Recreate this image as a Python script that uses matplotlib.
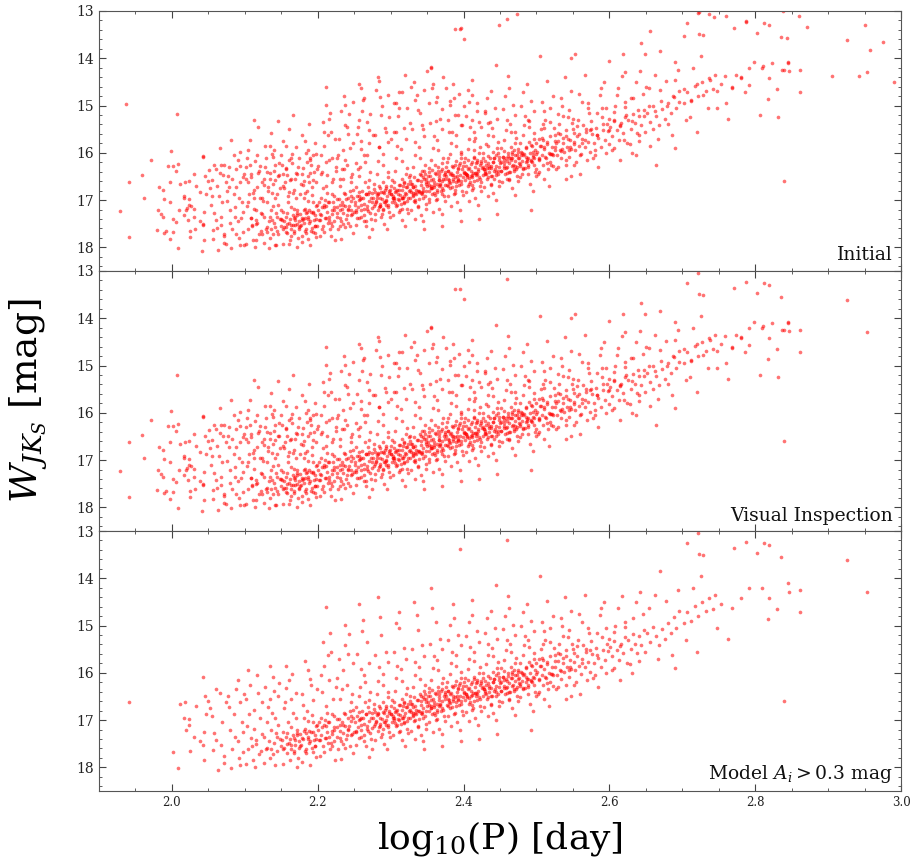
import numpy as np
import matplotlib
matplotlib.use("Agg")
import matplotlib.pyplot as plt
from matplotlib.ticker import MultipleLocator

plt.rcParams['font.family'] = ['DejaVu Serif']
plt.rcParams['mathtext.fontset'] = 'dejavuserif'

# stars kept in all three selections (log10 P [day], W_JKs [mag])
stars_model = [
    (1.941, 16.62),
    (2.001, 17.68), (2.008, 18.01), (2.011, 16.65), (2.018, 16.61), (2.016, 16.95), (2.023, 16.97), (2.020, 17.21), (2.024, 17.10), (2.025, 17.65),
    (2.033, 16.70), (2.043, 16.08), (2.046, 16.50), (2.049, 16.60), (2.047, 16.88), (2.044, 17.25), (2.043, 17.52), (2.044, 17.85), (2.038, 17.45), (2.030, 17.35),
    (2.052, 16.75), (2.055, 16.92), (2.058, 17.28), (2.061, 17.42), (2.057, 17.63), (2.066, 16.43), (2.069, 17.05), (2.071, 17.75), (2.063, 18.05), (2.074, 16.62),
    (2.068, 17.52), (2.072, 17.90), (2.060, 16.35),
    (2.077, 16.50), (2.080, 17.20), (2.083, 17.62), (2.085, 16.88), (2.088, 16.35), (2.090, 17.45), (2.092, 17.80), (2.094, 16.62), (2.096, 17.05), (2.098, 17.68),
    (2.081, 18.02), (2.086, 17.35), (2.091, 16.15), (2.097, 17.25), (2.079, 16.72), (2.093, 17.95), (2.099, 16.45),
    (2.101, 16.55), (2.103, 17.12), (2.105, 17.62), (2.107, 16.25), (2.109, 17.38), (2.111, 17.85), (2.113, 16.78), (2.115, 17.50), (2.117, 16.05), (2.119, 17.72),
    (2.121, 16.95), (2.123, 17.30), (2.102, 17.92), (2.106, 16.88), (2.110, 17.55), (2.114, 18.00), (2.118, 16.42), (2.122, 17.65), (2.104, 15.95), (2.112, 17.18),
    (2.116, 17.42), (2.124, 16.62),
    (2.126, 17.35), (2.128, 16.30), (2.130, 17.58), (2.132, 16.72), (2.134, 17.80), (2.136, 17.20), (2.138, 16.08), (2.140, 17.48), (2.142, 16.95), (2.144, 17.65),
    (2.146, 16.50), (2.148, 17.40), (2.127, 17.90), (2.131, 17.05), (2.135, 16.55), (2.139, 17.72), (2.143, 17.28), (2.147, 16.22), (2.129, 17.62), (2.133, 17.45),
    (2.137, 16.85), (2.141, 17.95), (2.145, 17.10), (2.149, 17.55), (2.134, 15.85), (2.140, 16.38), (2.144, 17.35), (2.136, 17.62),
    (2.151, 17.42), (2.152, 17.25), (2.154, 17.58), (2.155, 16.62), (2.157, 17.35), (2.158, 17.70), (2.160, 16.15), (2.161, 17.48), (2.163, 17.15), (2.164, 17.62),
    (2.166, 16.85), (2.167, 17.38), (2.169, 17.52), (2.170, 16.42), (2.172, 17.28), (2.173, 17.80), (2.174, 17.45), (2.153, 17.92), (2.156, 16.32), (2.159, 17.05),
    (2.162, 17.40), (2.165, 16.02), (2.168, 17.65), (2.171, 17.20), (2.154, 16.75), (2.158, 17.50), (2.162, 17.85), (2.166, 17.32), (2.170, 16.95), (2.174, 17.58),
    (2.157, 15.85), (2.163, 16.55), (2.169, 17.42), (2.172, 18.00),
    (2.176, 17.30), (2.177, 17.52), (2.179, 16.45), (2.180, 17.40), (2.182, 17.18), (2.183, 17.65), (2.185, 16.80), (2.186, 17.35), (2.188, 17.48), (2.189, 16.12),
    (2.191, 17.25), (2.192, 17.60), (2.194, 16.58), (2.195, 17.42), (2.197, 17.12), (2.198, 17.78), (2.178, 17.88), (2.181, 16.95), (2.184, 17.28), (2.187, 15.95),
    (2.190, 17.45), (2.193, 17.05), (2.196, 17.55), (2.199, 16.35), (2.180, 16.68), (2.184, 17.70), (2.188, 17.22), (2.192, 16.90), (2.196, 17.32), (2.178, 17.38),
    (2.186, 17.02), (2.194, 17.68), (2.183, 15.75), (2.191, 16.25), (2.198, 17.40), (2.189, 17.95),
    (2.201, 17.20), (2.202, 17.42), (2.204, 16.95), (2.205, 17.32), (2.207, 17.55), (2.208, 17.10), (2.210, 17.38), (2.211, 16.70), (2.213, 17.25), (2.214, 17.48),
    (2.216, 17.05), (2.217, 17.62), (2.219, 16.88), (2.220, 17.30), (2.222, 17.15), (2.223, 17.45), (2.203, 17.75), (2.206, 16.40), (2.209, 15.85), (2.212, 14.60),
    (2.215, 16.15), (2.218, 15.55), (2.221, 16.55), (2.224, 17.85), (2.204, 16.05), (2.210, 17.00), (2.216, 17.35), (2.222, 16.92), (2.207, 15.35), (2.213, 16.85),
    (2.219, 17.22), (2.202, 17.05), (2.208, 17.68), (2.214, 15.62), (2.220, 17.55), (2.225, 16.30), (2.211, 17.12), (2.217, 15.15),
    (2.226, 17.15), (2.227, 17.35), (2.229, 16.98), (2.230, 17.22), (2.232, 17.45), (2.233, 17.05), (2.235, 17.28), (2.236, 16.85), (2.238, 17.12), (2.239, 17.40),
    (2.241, 16.95), (2.242, 17.20), (2.244, 17.55), (2.245, 17.02), (2.247, 17.30), (2.248, 16.78), (2.228, 17.62), (2.231, 16.55), (2.234, 15.95), (2.237, 15.42),
    (2.240, 16.25), (2.243, 15.18), (2.246, 16.62), (2.249, 17.70), (2.229, 15.70), (2.233, 16.35), (2.238, 17.58), (2.243, 17.12), (2.247, 16.45), (2.227, 16.10),
    (2.235, 17.50), (2.241, 15.60), (2.245, 16.92), (2.250, 17.25), (2.232, 17.82), (2.240, 17.32), (2.237, 14.98), (2.248, 15.80), (2.230, 17.10), (2.244, 16.80),
    (2.251, 17.05), (2.252, 17.25), (2.254, 16.92), (2.255, 17.15), (2.257, 17.38), (2.258, 16.98), (2.260, 17.20), (2.261, 16.80), (2.263, 17.08), (2.264, 17.32),
    (2.266, 16.88), (2.267, 17.12), (2.269, 16.72), (2.270, 17.02), (2.272, 17.28), (2.273, 16.95), (2.253, 17.52), (2.256, 16.50), (2.259, 15.92), (2.262, 14.88),
    (2.265, 16.20), (2.268, 15.35), (2.271, 16.58), (2.274, 17.62), (2.254, 15.60), (2.258, 16.30), (2.263, 17.45), (2.268, 17.18), (2.272, 16.40), (2.256, 17.00),
    (2.261, 15.12), (2.266, 17.55), (2.270, 15.80), (2.275, 16.85), (2.252, 16.72), (2.259, 17.10), (2.265, 16.62), (2.273, 17.40), (2.257, 14.55), (2.264, 16.05),
    (2.271, 17.78), (2.260, 16.95),
    (2.276, 16.95), (2.277, 17.12), (2.279, 16.82), (2.280, 17.02), (2.282, 17.22), (2.283, 16.88), (2.285, 17.08), (2.286, 16.75), (2.288, 16.98), (2.289, 17.18),
    (2.291, 16.85), (2.292, 17.05), (2.294, 16.70), (2.295, 16.92), (2.297, 17.15), (2.298, 16.80), (2.278, 17.42), (2.281, 16.45), (2.284, 15.88), (2.287, 15.20),
    (2.290, 16.25), (2.293, 15.55), (2.296, 16.52), (2.299, 17.35), (2.279, 15.62), (2.283, 16.18), (2.288, 17.30), (2.293, 17.00), (2.297, 16.40), (2.281, 16.90),
    (2.286, 14.82), (2.291, 17.50), (2.296, 15.78), (2.300, 16.88), (2.277, 16.65), (2.284, 17.15), (2.290, 16.62), (2.298, 17.25), (2.282, 14.40), (2.289, 16.02),
    (2.295, 17.62), (2.285, 16.95), (2.292, 16.78), (2.280, 17.05), (2.287, 17.35), (2.294, 17.10),
    (2.301, 16.88), (2.302, 17.05), (2.304, 16.75), (2.305, 16.95), (2.307, 17.12), (2.308, 16.80), (2.310, 16.98), (2.311, 16.68), (2.313, 16.90), (2.314, 17.08),
    (2.316, 16.78), (2.317, 16.95), (2.319, 16.62), (2.320, 16.85), (2.322, 17.02), (2.323, 16.72), (2.303, 17.32), (2.306, 16.38), (2.309, 15.85), (2.312, 15.05),
    (2.315, 16.18), (2.318, 15.48), (2.321, 16.45), (2.324, 17.28), (2.304, 15.55), (2.308, 16.10), (2.313, 17.22), (2.318, 16.92), (2.322, 16.32), (2.306, 16.82),
    (2.311, 14.72), (2.316, 17.42), (2.321, 15.70), (2.325, 16.80), (2.302, 16.58), (2.309, 17.10), (2.315, 16.55), (2.323, 17.18), (2.307, 14.95), (2.314, 15.92),
    (2.320, 17.55), (2.310, 16.88), (2.317, 16.70), (2.305, 17.00), (2.312, 17.25), (2.319, 17.05), (2.324, 16.65), (2.303, 16.92),
    (2.326, 16.78), (2.327, 16.95), (2.329, 16.65), (2.330, 16.85), (2.332, 17.02), (2.333, 16.70), (2.335, 16.88), (2.336, 16.58), (2.338, 16.80), (2.339, 16.98),
    (2.341, 16.68), (2.342, 16.85), (2.344, 16.52), (2.345, 16.75), (2.347, 16.92), (2.348, 16.62), (2.328, 17.22), (2.331, 16.30), (2.334, 15.78), (2.337, 15.10),
    (2.340, 16.12), (2.343, 15.42), (2.346, 16.38), (2.349, 17.18), (2.329, 15.50), (2.333, 16.05), (2.338, 17.12), (2.343, 16.82), (2.347, 16.25), (2.331, 16.72),
    (2.336, 14.78), (2.341, 17.32), (2.346, 15.65), (2.350, 16.70), (2.327, 16.48), (2.334, 17.00), (2.340, 16.45), (2.348, 17.08), (2.332, 14.50), (2.339, 15.88),
    (2.345, 17.45), (2.335, 16.78), (2.342, 16.60), (2.330, 16.90), (2.337, 17.15), (2.344, 16.95), (2.349, 16.55), (2.328, 16.82), (2.346, 17.62), (2.333, 17.40),
    (2.351, 16.62), (2.352, 16.80), (2.354, 16.50), (2.355, 16.70), (2.357, 16.88), (2.358, 16.55), (2.360, 16.72), (2.361, 16.42), (2.363, 16.65), (2.364, 16.82),
    (2.366, 16.52), (2.367, 16.70), (2.369, 16.38), (2.370, 16.60), (2.372, 16.78), (2.373, 16.48), (2.353, 17.05), (2.356, 16.15), (2.359, 15.65), (2.362, 14.92),
    (2.365, 15.95), (2.368, 15.28), (2.371, 16.22), (2.374, 17.02), (2.354, 15.38), (2.358, 15.90), (2.363, 16.98), (2.368, 16.68), (2.372, 16.10), (2.356, 16.58),
    (2.356, 14.20), (2.366, 17.18), (2.371, 15.50), (2.375, 16.55), (2.352, 16.32), (2.359, 16.85), (2.365, 16.30), (2.373, 16.92), (2.357, 14.62), (2.364, 15.72),
    (2.370, 17.30), (2.360, 16.62), (2.367, 16.45), (2.355, 16.75), (2.362, 17.00), (2.369, 16.80), (2.374, 16.40), (2.353, 16.68), (2.371, 17.55), (2.358, 17.25),
    (2.366, 16.58), (2.361, 16.90),
    (2.376, 16.50), (2.377, 16.68), (2.379, 16.38), (2.380, 16.58), (2.382, 16.75), (2.383, 16.42), (2.385, 16.60), (2.386, 16.30), (2.388, 16.52), (2.389, 16.70),
    (2.391, 16.40), (2.392, 16.58), (2.394, 16.25), (2.395, 16.48), (2.397, 16.65), (2.398, 16.35), (2.378, 16.92), (2.381, 16.02), (2.384, 15.55), (2.387, 14.85),
    (2.390, 15.85), (2.393, 15.20), (2.396, 16.10), (2.399, 16.90), (2.379, 15.30), (2.383, 15.80), (2.388, 16.85), (2.393, 16.55), (2.397, 15.98), (2.381, 16.45),
    (2.386, 14.55), (2.391, 17.05), (2.396, 15.42), (2.400, 16.42), (2.377, 16.20), (2.384, 16.72), (2.390, 16.18), (2.398, 16.80), (2.382, 14.98), (2.389, 15.62),
    (2.395, 17.20), (2.385, 16.48), (2.392, 16.32), (2.380, 16.62), (2.387, 16.88), (2.394, 16.68), (2.399, 16.28), (2.378, 16.55), (2.396, 17.45), (2.383, 17.12),
    (2.395, 13.38), (2.391, 16.50),
    (2.401, 16.40), (2.402, 16.58), (2.404, 16.28), (2.405, 16.48), (2.407, 16.65), (2.408, 16.32), (2.410, 16.50), (2.411, 16.20), (2.413, 16.42), (2.414, 16.60),
    (2.416, 16.30), (2.417, 16.48), (2.419, 16.15), (2.420, 16.38), (2.422, 16.55), (2.423, 16.25), (2.403, 16.82), (2.406, 15.92), (2.409, 15.45), (2.412, 14.78),
    (2.415, 15.75), (2.418, 15.12), (2.421, 16.00), (2.424, 16.80), (2.404, 15.22), (2.408, 15.70), (2.413, 16.75), (2.418, 16.45), (2.422, 15.88), (2.406, 16.35),
    (2.411, 14.45), (2.416, 16.95), (2.421, 15.35), (2.425, 16.32), (2.402, 16.10), (2.409, 16.62), (2.415, 16.08), (2.423, 16.70), (2.407, 14.92), (2.414, 15.55),
    (2.420, 17.10), (2.410, 16.38), (2.417, 16.22), (2.405, 16.52), (2.412, 16.78), (2.419, 16.58), (2.424, 16.18), (2.403, 16.45), (2.421, 17.40), (2.408, 17.02),
    (2.416, 16.42), (2.411, 16.68),
    (2.426, 16.30), (2.427, 16.48), (2.429, 16.18), (2.430, 16.38), (2.432, 16.55), (2.433, 16.22), (2.435, 16.40), (2.436, 16.10), (2.438, 16.32), (2.439, 16.50),
    (2.441, 16.20), (2.442, 16.38), (2.444, 16.05), (2.445, 16.28), (2.447, 16.45), (2.448, 16.15), (2.428, 16.72), (2.431, 15.82), (2.434, 15.38), (2.437, 14.70),
    (2.440, 15.65), (2.443, 15.05), (2.446, 15.90), (2.449, 16.70), (2.429, 15.15), (2.433, 15.62), (2.438, 16.65), (2.443, 16.35), (2.447, 15.78), (2.431, 16.25),
    (2.444, 14.14), (2.441, 16.85), (2.446, 15.28), (2.450, 16.22), (2.427, 16.00), (2.434, 16.52), (2.440, 15.98), (2.448, 16.60), (2.432, 14.85), (2.439, 15.48),
    (2.445, 17.00), (2.435, 16.28), (2.442, 16.12), (2.430, 16.42), (2.437, 16.68), (2.444, 16.48), (2.449, 16.08), (2.428, 16.35), (2.446, 17.30), (2.433, 16.92),
    (2.451, 16.20), (2.452, 16.38), (2.454, 16.08), (2.455, 16.28), (2.457, 16.45), (2.458, 16.12), (2.460, 16.30), (2.461, 16.00), (2.463, 16.22), (2.464, 16.40),
    (2.466, 16.10), (2.467, 16.28), (2.469, 15.95), (2.470, 16.18), (2.472, 16.35), (2.473, 16.05), (2.453, 16.62), (2.456, 15.72), (2.459, 15.30), (2.462, 14.62),
    (2.465, 15.55), (2.468, 14.98), (2.471, 15.80), (2.474, 16.60), (2.454, 15.08), (2.458, 15.52), (2.463, 16.55), (2.468, 16.25), (2.472, 15.68), (2.456, 16.15),
    (2.461, 14.38), (2.466, 16.75), (2.471, 15.20), (2.475, 16.12), (2.452, 15.90), (2.459, 16.42), (2.465, 15.88), (2.473, 16.50), (2.457, 14.80), (2.464, 15.40),
    (2.470, 16.90), (2.460, 16.18), (2.467, 16.02), (2.455, 16.32), (2.462, 16.58), (2.469, 16.38), (2.474, 15.98), (2.476, 16.22), (2.460, 13.18),
    (2.476, 16.10), (2.477, 16.28), (2.479, 15.98), (2.480, 16.18), (2.482, 16.35), (2.483, 16.02), (2.485, 16.20), (2.486, 15.90), (2.488, 16.12), (2.489, 16.30),
    (2.491, 16.00), (2.492, 16.18), (2.494, 15.85), (2.495, 16.08), (2.497, 16.25), (2.498, 15.95), (2.478, 16.52), (2.481, 15.62), (2.484, 15.22), (2.487, 14.55),
    (2.490, 15.45), (2.493, 14.90), (2.496, 15.70), (2.499, 16.50), (2.479, 15.00), (2.483, 15.42), (2.488, 16.45), (2.493, 16.15), (2.497, 15.58), (2.481, 16.05),
    (2.491, 16.65), (2.496, 15.12), (2.500, 16.02), (2.477, 15.80), (2.484, 16.32), (2.490, 15.78), (2.498, 16.40), (2.482, 14.72), (2.489, 15.30), (2.495, 16.80),
    (2.485, 16.08), (2.492, 17.20),
    (2.501, 15.98), (2.503, 16.15), (2.505, 15.85), (2.507, 16.05), (2.509, 16.25), (2.511, 15.92), (2.513, 16.10), (2.515, 15.78), (2.517, 16.00), (2.519, 16.20),
    (2.521, 15.88), (2.523, 16.05), (2.502, 16.45), (2.506, 15.50), (2.510, 15.12), (2.514, 14.48), (2.518, 15.35), (2.522, 14.80), (2.525, 15.62), (2.504, 16.40),
    (2.508, 14.92), (2.512, 15.30), (2.516, 16.35), (2.520, 16.02), (2.524, 15.48), (2.503, 15.70), (2.511, 16.55), (2.519, 15.05), (2.507, 15.68), (2.515, 16.22),
    (2.522, 16.28), (2.509, 15.40), (2.517, 16.70), (2.505, 13.95),
    (2.526, 15.88), (2.528, 16.05), (2.530, 15.75), (2.532, 15.95), (2.534, 16.12), (2.536, 15.80), (2.538, 15.98), (2.540, 15.65), (2.542, 15.88), (2.544, 16.08),
    (2.546, 15.72), (2.548, 15.92), (2.527, 16.35), (2.531, 15.40), (2.535, 15.00), (2.539, 14.40), (2.543, 15.25), (2.547, 14.70), (2.550, 15.50), (2.529, 16.30),
    (2.533, 14.85), (2.537, 15.22), (2.541, 16.25), (2.545, 15.95), (2.549, 15.38), (2.532, 15.60), (2.540, 16.55), (2.544, 15.10), (2.547, 16.50),
    (2.551, 15.78), (2.553, 15.95), (2.556, 15.65), (2.558, 15.85), (2.561, 16.02), (2.563, 15.70), (2.566, 15.88), (2.568, 15.55), (2.571, 15.78), (2.573, 15.98),
    (2.552, 16.25), (2.557, 15.30), (2.562, 14.92), (2.567, 14.35), (2.572, 15.15), (2.554, 16.20), (2.559, 14.75), (2.564, 15.42), (2.569, 16.15), (2.574, 15.52),
    (2.560, 16.45), (2.570, 15.05),
    (2.576, 15.60), (2.579, 15.80), (2.582, 15.48), (2.585, 15.68), (2.588, 15.88), (2.591, 15.52), (2.594, 15.72), (2.597, 15.40), (2.578, 16.10), (2.583, 15.15),
    (2.587, 14.78), (2.592, 14.50), (2.596, 15.05), (2.580, 16.05), (2.589, 14.62), (2.595, 16.00), (2.599, 15.28), (2.585, 16.30),
    (2.601, 15.45), (2.604, 15.65), (2.607, 15.32), (2.610, 15.52), (2.613, 15.72), (2.616, 15.38), (2.619, 15.58), (2.622, 15.25), (2.603, 15.95), (2.608, 15.00),
    (2.612, 14.62), (2.617, 14.38), (2.621, 14.92), (2.606, 15.90), (2.615, 16.15), (2.624, 15.80),
    (2.626, 15.30), (2.629, 15.50), (2.632, 15.18), (2.635, 15.38), (2.638, 15.58), (2.641, 15.22), (2.644, 15.42), (2.647, 15.10), (2.628, 15.82), (2.633, 14.85),
    (2.637, 14.50), (2.642, 14.28), (2.646, 14.75), (2.631, 16.00), (2.640, 15.75), (2.649, 15.55),
    (2.652, 15.15), (2.656, 15.35), (2.660, 15.02), (2.664, 15.22), (2.668, 15.42), (2.672, 15.08), (2.676, 15.28), (2.680, 14.95), (2.684, 15.15), (2.688, 14.82),
    (2.692, 15.05), (2.696, 14.70), (2.654, 14.62), (2.662, 14.35), (2.670, 13.85), (2.678, 14.48), (2.686, 15.62), (2.694, 14.25), (2.666, 15.70), (2.690, 15.90),
    (2.702, 14.95), (2.707, 14.72), (2.712, 14.90), (2.717, 14.58), (2.722, 14.80), (2.727, 14.50), (2.732, 14.70), (2.737, 14.42), (2.742, 14.65), (2.705, 15.30),
    (2.715, 14.20), (2.725, 13.95), (2.745, 14.35), (2.748, 15.05), (2.720, 15.55), (2.762, 15.29), (2.753, 14.55), (2.768, 14.62), (2.780, 14.41), (2.792, 14.21),
    (2.809, 14.20), (2.819, 14.42), (2.817, 14.86), (2.830, 14.65), (2.845, 14.10), (2.847, 14.28), (2.862, 14.25), (2.861, 14.72), (2.840, 16.59),
    (2.722, 13.05), (2.706, 13.25), (2.723, 13.49), (2.729, 13.50), (2.771, 13.35), (2.788, 13.23), (2.802, 13.46), (2.812, 13.25), (2.819, 13.30), (2.836, 13.55),
    (2.926, 13.61), (2.954, 14.29),
]

# extra stars in the dense core of the period-luminosity ridge (all selections)
stars_ridge = [
    (2.152, 17.62), (2.158, 17.28), (2.163, 17.52), (2.167, 17.70), (2.171, 17.32), (2.176, 17.55), (2.181, 17.22), (2.184, 17.62), (2.187, 17.40), (2.193, 17.26),
    (2.196, 17.55), (2.199, 17.10), (2.203, 17.42), (2.206, 17.15), (2.211, 17.38), (2.214, 17.05), (2.218, 17.48), (2.223, 17.20), (2.226, 16.98), (2.231, 17.38),
    (2.234, 17.10), (2.238, 16.88), (2.242, 17.18), (2.246, 17.32), (2.249, 16.95), (2.253, 17.22), (2.256, 16.82), (2.259, 17.35), (2.262, 16.95), (2.266, 16.88),
    (2.269, 17.24), (2.271, 16.83), (2.274, 17.16), (2.277, 16.76), (2.279, 17.08), (2.282, 16.85), (2.284, 16.70), (2.286, 17.12), (2.289, 16.82), (2.291, 17.04),
    (2.293, 16.74), (2.296, 17.10), (2.298, 16.84), (2.301, 16.70), (2.303, 16.95), (2.305, 16.62), (2.306, 17.06), (2.309, 16.78), (2.311, 17.00), (2.313, 16.68),
    (2.315, 16.95), (2.318, 16.64), (2.319, 17.06), (2.321, 16.72), (2.324, 16.96), (2.326, 16.60), (2.328, 16.66), (2.331, 16.92), (2.332, 16.52), (2.334, 16.85),
    (2.337, 16.58), (2.339, 16.80), (2.341, 16.48), (2.343, 16.88), (2.346, 16.56), (2.347, 16.44), (2.349, 16.80), (2.351, 16.50), (2.353, 16.40), (2.356, 16.74),
    (2.357, 16.36), (2.359, 16.68), (2.362, 16.45), (2.364, 16.78), (2.365, 16.38), (2.368, 16.65), (2.370, 16.35), (2.371, 16.75), (2.374, 16.44), (2.376, 16.30),
    (2.378, 16.70), (2.379, 16.39), (2.382, 16.63), (2.384, 16.28), (2.386, 16.55), (2.388, 16.25), (2.390, 16.62), (2.393, 16.35), (2.395, 16.22), (2.397, 16.60),
    (2.399, 16.52), (2.401, 16.20), (2.403, 16.44), (2.406, 16.15), (2.408, 16.54), (2.410, 16.23), (2.412, 16.47), (2.415, 16.12), (2.417, 16.43), (2.419, 16.19),
    (2.421, 16.52), (2.424, 16.22), (2.426, 16.10), (2.428, 16.34), (2.431, 16.44), (2.433, 16.06), (2.435, 16.32), (2.437, 16.50), (2.440, 16.19), (2.442, 16.12),
    (2.444, 16.41), (2.447, 16.01), (2.449, 16.30), (2.451, 16.38), (2.454, 16.08), (2.456, 15.96), (2.458, 16.32), (2.461, 16.06), (2.463, 16.40), (2.465, 16.11),
    (2.467, 15.99), (2.469, 16.35), (2.471, 16.04), (2.473, 16.29), (2.475, 15.93), (2.478, 16.24), (2.480, 16.00), (2.482, 16.33), (2.485, 15.87), (2.487, 16.14),
    (2.489, 16.26), (2.492, 15.84), (2.494, 16.20), (2.497, 16.10), (2.500, 15.79), (2.503, 16.13), (2.506, 15.86), (2.509, 15.73), (2.512, 16.09), (2.515, 15.82),
    (2.518, 15.65), (2.521, 16.03), (2.525, 15.76), (2.529, 15.59), (2.533, 15.96), (2.537, 15.68), (2.541, 15.51), (2.546, 15.88), (2.551, 15.58), (2.556, 15.43),
    (2.562, 15.79), (2.568, 15.50), (2.575, 15.33), (2.583, 15.63), (2.590, 15.25), (2.598, 15.53), (2.606, 15.13), (2.614, 15.43), (2.622, 15.03),
]

# stars kept after visual inspection but dropped by the amplitude cut
stars_visual = [
    (1.929, 17.24), (1.941, 17.78), (1.959, 16.46), (1.962, 16.95), (1.971, 16.16), (1.983, 16.72), (1.988, 17.35), (1.992, 17.65), (1.995, 16.28), (1.997, 17.05),
    (1.999, 15.96), (2.007, 15.19), (2.009, 16.23), (2.002, 16.28), (2.006, 16.38), (1.998, 16.62), (1.988, 16.78), (1.989, 16.97), (1.981, 17.20), (1.985, 17.29),
    (2.002, 17.40), (2.005, 17.47), (1.980, 17.64), (1.989, 17.70), (1.997, 17.82), (2.010, 17.22),
    (2.024, 16.60), (2.031, 16.45), (2.017, 16.92), (2.026, 17.12), (2.030, 17.18), (2.021, 17.16), (2.016, 17.32), (2.022, 17.43), (2.032, 17.61), (2.025, 17.78),
    (2.042, 16.07), (2.038, 16.83), (2.042, 17.51), (2.041, 18.08),
    (2.051, 16.36), (2.058, 16.26), (2.067, 16.25), (2.072, 16.25), (2.055, 16.58), (2.062, 16.70), (2.070, 16.48), (2.078, 16.30), (2.083, 16.55), (2.088, 16.72),
    (2.094, 16.28), (2.098, 16.52), (2.064, 16.92), (2.076, 17.02), (2.086, 17.15), (2.092, 16.95), (2.053, 17.10), (2.068, 17.35), (2.080, 17.48), (2.095, 17.38),
    (2.057, 17.82), (2.074, 17.92), (2.088, 17.72), (2.099, 17.95), (2.066, 15.90), (2.081, 15.72), (2.093, 15.98), (2.085, 16.05), (2.062, 17.60), (2.071, 17.72),
    (2.102, 16.30), (2.105, 16.62), (2.108, 16.45), (2.111, 16.85), (2.114, 16.18), (2.117, 16.72), (2.120, 16.38), (2.123, 16.95), (2.126, 16.55), (2.129, 16.12),
    (2.132, 16.80), (2.135, 16.42), (2.138, 16.65), (2.141, 16.25), (2.144, 16.88), (2.147, 16.48), (2.150, 16.05), (2.153, 16.70), (2.156, 16.35), (2.159, 16.92),
    (2.162, 16.58), (2.165, 16.22), (2.168, 16.78), (2.171, 16.45), (2.174, 16.10), (2.177, 16.65), (2.180, 16.32), (2.183, 16.85), (2.186, 16.50), (2.189, 16.15),
    (2.192, 16.72), (2.195, 16.40), (2.198, 16.02),
    (2.103, 16.12), (2.109, 16.52), (2.113, 16.95), (2.121, 16.28), (2.127, 16.68), (2.131, 16.40), (2.137, 16.02), (2.142, 16.58), (2.148, 16.75), (2.151, 16.25),
    (2.158, 16.48), (2.161, 16.82), (2.164, 16.12), (2.169, 16.55), (2.173, 16.30), (2.176, 16.88), (2.181, 16.60), (2.185, 16.20), (2.189, 16.42), (2.193, 16.05),
    (2.197, 16.62), (2.201, 16.28), (2.207, 16.75), (2.213, 16.48), (2.219, 16.10), (2.225, 16.38), (2.231, 16.70), (2.238, 16.15), (2.246, 16.52), (2.255, 16.35),
    (2.107, 15.72), (2.118, 15.45), (2.128, 15.85), (2.136, 15.58), (2.145, 15.32), (2.152, 15.75), (2.161, 15.50), (2.170, 15.88), (2.178, 15.62), (2.188, 15.40),
    (2.196, 15.80), (2.112, 15.30), (2.140, 15.95), (2.166, 15.20), (2.184, 16.00),
    (2.104, 17.05), (2.110, 17.52), (2.116, 17.85), (2.122, 17.28), (2.130, 17.68), (2.137, 17.42), (2.143, 17.95), (2.150, 17.22), (2.157, 17.58), (2.163, 17.75),
    (2.169, 17.35), (2.175, 17.62), (2.181, 17.48), (2.187, 17.82), (2.193, 17.28), (2.199, 17.55), (2.108, 17.38), (2.125, 17.02), (2.139, 17.12), (2.154, 17.45),
    (2.167, 17.18), (2.179, 17.42), (2.191, 17.65), (2.146, 17.72), (2.172, 17.50), (2.185, 17.25), (2.133, 18.02), (2.160, 17.92),
    (2.117, 17.48), (2.124, 17.72), (2.134, 17.35), (2.141, 17.58), (2.149, 17.40), (2.156, 17.68), (2.166, 17.52), (2.178, 17.75), (2.183, 17.38), (2.196, 17.70),
    (2.203, 17.30), (2.209, 17.15), (2.215, 17.42), (2.221, 17.05), (2.227, 17.28), (2.233, 17.18), (2.239, 16.98), (2.245, 17.22), (2.251, 17.10), (2.257, 16.92),
    (2.263, 17.18), (2.269, 16.88), (2.275, 17.05), (2.281, 16.95), (2.287, 16.82), (2.293, 17.02), (2.299, 16.78), (2.206, 17.62), (2.218, 17.75), (2.230, 17.55),
    (2.242, 17.48), (2.254, 17.38), (2.266, 17.45), (2.278, 17.30), (2.290, 17.22),
    (2.204, 16.45), (2.212, 16.20), (2.220, 16.62), (2.228, 16.05), (2.236, 16.35), (2.244, 15.90), (2.252, 16.22), (2.260, 15.75), (2.268, 16.05), (2.276, 15.62),
    (2.284, 15.88), (2.292, 15.48), (2.300, 15.70),
    (2.208, 15.55), (2.216, 15.28), (2.224, 15.70), (2.232, 15.12), (2.240, 15.45), (2.248, 14.92), (2.256, 15.30), (2.264, 14.85), (2.272, 15.18), (2.280, 14.68),
    (2.288, 15.02), (2.296, 14.78), (2.236, 14.80), (2.260, 14.62), (2.284, 14.48), (2.212, 14.98), (2.270, 15.52), (2.298, 15.25),
    (2.304, 14.95), (2.310, 15.22), (2.316, 14.72), (2.322, 15.05), (2.328, 14.60), (2.334, 14.88), (2.340, 15.15), (2.346, 14.68), (2.352, 14.95), (2.358, 14.55),
    (2.364, 14.82), (2.370, 15.08), (2.376, 14.62), (2.382, 14.90), (2.388, 15.20), (2.394, 14.75), (2.400, 15.02), (2.406, 14.68), (2.412, 15.30), (2.418, 14.95),
    (2.424, 15.45), (2.430, 15.12), (2.308, 15.55), (2.326, 15.38), (2.344, 15.50), (2.362, 15.32), (2.380, 15.55), (2.398, 15.42), (2.416, 15.68), (2.436, 15.35),
    (2.320, 14.35), (2.350, 14.28), (2.372, 14.40), (2.356, 14.18),
    (2.303, 16.95), (2.312, 16.78), (2.321, 16.88), (2.330, 16.72), (2.339, 16.82), (2.348, 16.65), (2.357, 16.75), (2.366, 16.58), (2.375, 16.68), (2.384, 16.48),
    (2.393, 16.60), (2.402, 16.42), (2.411, 16.52), (2.420, 16.35), (2.429, 16.45), (2.438, 16.28), (2.447, 16.38), (2.316, 17.18), (2.334, 17.05), (2.352, 16.98),
    (2.370, 16.88), (2.388, 16.78), (2.406, 16.70), (2.424, 16.62), (2.442, 16.55), (2.325, 16.52), (2.343, 16.38), (2.361, 16.25), (2.379, 16.12), (2.397, 16.02),
    (2.415, 15.95), (2.433, 15.85), (2.388, 13.39), (2.400, 13.60),
    (2.455, 16.22), (2.463, 16.12), (2.471, 16.28), (2.479, 16.05), (2.487, 16.18), (2.495, 15.98), (2.503, 16.10), (2.511, 15.88), (2.519, 16.02), (2.527, 15.80),
    (2.535, 15.92), (2.543, 15.70), (2.551, 15.82), (2.559, 15.60), (2.567, 15.72), (2.575, 15.50), (2.583, 15.62), (2.591, 15.40), (2.599, 15.52), (2.607, 15.30),
    (2.615, 15.42), (2.623, 15.20), (2.631, 15.32), (2.639, 15.10), (2.647, 15.22), (2.655, 15.00), (2.663, 15.12), (2.671, 14.90), (2.679, 15.02), (2.687, 14.80),
    (2.695, 14.92),
    (2.460, 16.55), (2.480, 16.45), (2.500, 16.35), (2.520, 16.25), (2.540, 16.15), (2.560, 16.05), (2.580, 15.95), (2.600, 15.82), (2.620, 15.72), (2.640, 15.62),
    (2.660, 15.50), (2.680, 15.40),
    (2.470, 15.55), (2.490, 15.32), (2.510, 15.48), (2.530, 15.18), (2.550, 15.28), (2.570, 14.95), (2.590, 15.05), (2.610, 14.78), (2.630, 14.85), (2.650, 14.60),
    (2.670, 14.68), (2.690, 14.45), (2.547, 14.00), (2.553, 13.90), (2.600, 14.05), (2.618, 13.90), (2.622, 14.30), (2.644, 13.67), (2.649, 13.91), (2.690, 14.07),
    (2.656, 15.85), (2.636, 16.05), (2.664, 16.25),
    (2.703, 14.65), (2.712, 14.88), (2.720, 14.55), (2.728, 14.78), (2.738, 14.45), (2.748, 14.70), (2.758, 14.38), (2.768, 14.60), (2.774, 14.35), (2.781, 14.39),
    (2.786, 14.72), (2.792, 14.56), (2.798, 14.07), (2.806, 15.20), (2.811, 14.17), (2.823, 14.11), (2.831, 15.24), (2.837, 14.25), (2.839, 14.25), (2.845, 14.07),
    (2.710, 15.25), (2.735, 15.05), (2.760, 14.95),
]

# stars present only in the initial sample
stars_initial = [
    (1.937, 14.96), (2.397, 13.35), (2.449, 13.30), (2.473, 13.07), (2.656, 13.42), (2.703, 13.53), (2.723, 13.02), (2.736, 13.06),
    (2.744, 13.13), (2.760, 13.10), (2.787, 13.22), (2.838, 13.00), (2.843, 13.58), (2.860, 13.10), (2.871, 13.34), (2.906, 14.38),
    (2.943, 14.38), (2.950, 13.30), (2.957, 13.83), (2.975, 13.65), (2.991, 14.50),
    (2.285, 17.12), (2.315, 16.95), (2.345, 16.80), (2.372, 16.55), (2.405, 16.48), (2.432, 16.32), (2.465, 16.15), (2.495, 16.05),
    (2.152, 16.45), (2.188, 16.62), (2.075, 16.80), (2.115, 17.20), (2.235, 16.55), (2.255, 15.45), (2.525, 15.95),
]

panel_labels = ["Initial", "Visual Inspection", r"Model $A_i > 0.3$ mag"]
panel_sets = [
    stars_model + stars_ridge + stars_visual + stars_initial,
    stars_model + stars_ridge + stars_visual,
    stars_model + stars_ridge,
]

fig = plt.figure(figsize=(9.13, 8.63), dpi=100)
left, right, top, bottom = 0.1084, 0.9869, 0.9873, 0.0834
h = (top - bottom) / 3

for k in range(3):
    ax = fig.add_axes([left, top - (k + 1) * h, right - left, h])
    pts = np.array(panel_sets[k])
    ax.scatter(pts[:, 0], pts[:, 1], s=7, c='red', alpha=0.55, linewidths=0)
    ax.set_xlim(1.9, 3.0)
    ax.set_ylim(18.5, 13)
    ax.xaxis.set_major_locator(MultipleLocator(0.2))
    ax.xaxis.set_minor_locator(MultipleLocator(0.05))
    ax.yaxis.set_major_locator(MultipleLocator(1))
    ax.yaxis.set_minor_locator(MultipleLocator(0.2))
    ax.tick_params(which='both', direction='in', top=True, right=True, colors='#444444')
    ax.tick_params(which='major', length=5, width=0.8)
    ax.tick_params(which='minor', length=2.5, width=0.6)
    ax.tick_params(axis='y', labelsize=10, labelcolor='#222222')
    ax.tick_params(axis='x', labelsize=8.5, labelcolor='#222222')
    for sp in ax.spines.values():
        sp.set_color('#555555')
    if k < 2:
        ax.tick_params(axis='x', labelbottom=False)
    ax.text(0.99, 0.025, panel_labels[k], transform=ax.transAxes, ha='right', va='bottom', fontsize=13.5, color='#111111')

fig.text(0.032, (top + bottom) / 2, r"$W_{JK_S}$ [mag]", rotation=90, ha='center', va='center', fontsize=27)
fig.text((left + right) / 2, 0.028, r"log$_{10}$(P) [day]", ha='center', va='center', fontsize=26)

fig.savefig("out.png", dpi=100)
